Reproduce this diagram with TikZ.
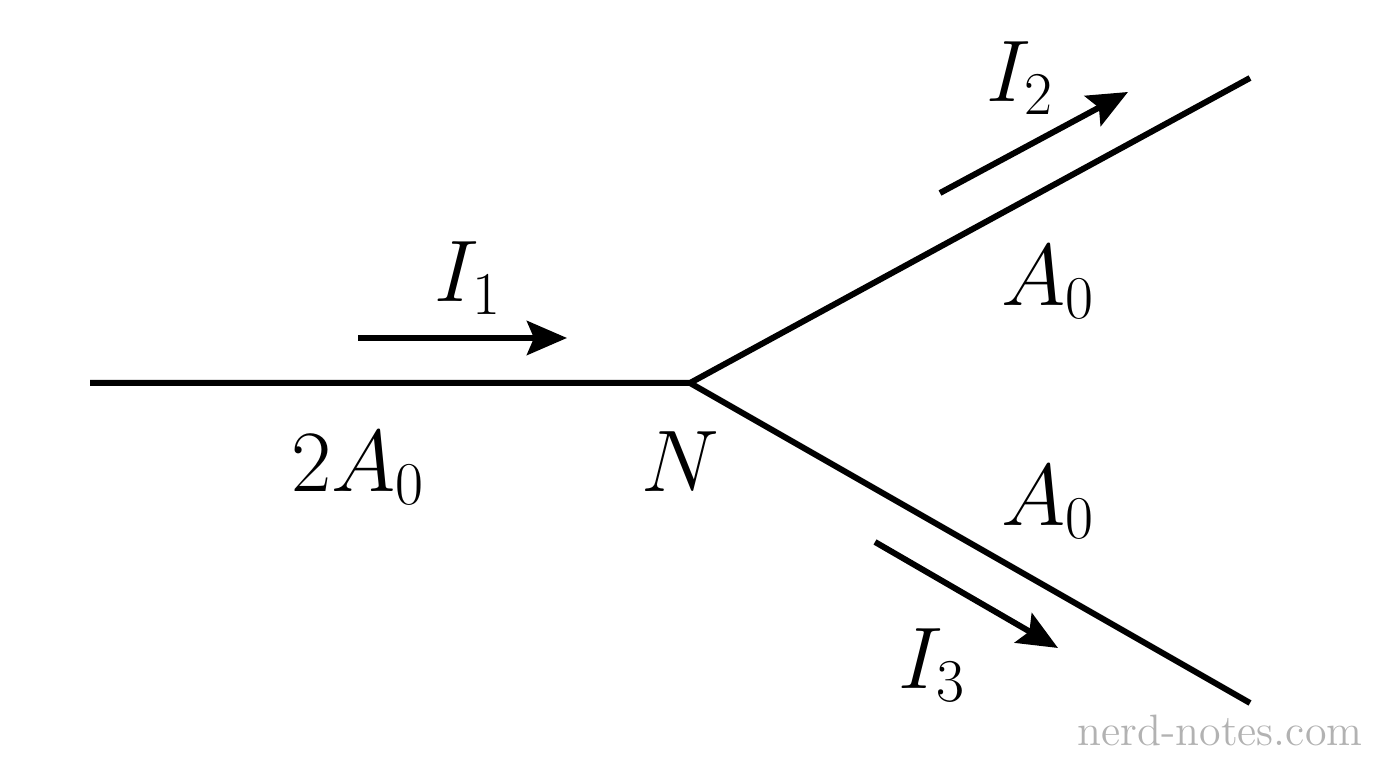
\documentclass[tikz,border=0pt]{standalone}
\usepackage{amsmath}
\usetikzlibrary{arrows.meta,positioning}

\begin{document}
\begin{tikzpicture}[semithick,x=0.01cm,y=-0.01cm,
    wire/.style={line width=1.7pt},
    flow/.style={-{Stealth[length=0.4cm,width=0.34cm,inset=0.07cm]},line width=1.7pt},
    lbl/.style={font=\fontsize{27}{32}\selectfont}]
        \useasboundingbox (0,0) rectangle (1376,768);

        \coordinate (start) at (90,383);
        \coordinate (N) at (690,383);
        \coordinate (upEnd) at (1250,78);
        \coordinate (lowEnd) at (1250,703);

        \coordinate (i1a) at (358,338);
        \coordinate (i1b) at (567,338);
        \coordinate (i2a) at (940,193);
        \coordinate (i2b) at (1128,92);
        \coordinate (i3a) at (875,542);
        \coordinate (i3b) at (1058,648);

        \node[lbl] (I1) at (468,278) {$I_1$};
        \node[lbl] (I2) at (1020,78) {$I_2$};
        \node[lbl] (I3) at (932,665) {$I_3$};
        \node[lbl] (Aup) at (1048,282) {$A_0$};
        \node[lbl] (Alow) at (1048,502) {$A_0$};
        \node[lbl] (Amain) at (358,468) {$2A_0$};
        \node[lbl] (Nlbl) at (680,462) {$N$};

        \node[text=black!30,font=\fontsize{12.5}{15}\selectfont] (mark) at (1220,730)
            {nerd-notes.com};

        \draw[wire] (start) -- (N) -- (upEnd);
        \draw[wire] (N) -- (lowEnd);

        \path
        (i1a) edge[flow] (i1b)
        (i2a) edge[flow] (i2b)
        (i3a) edge[flow] (i3b)
        ;
    \end{tikzpicture}
\end{document}
